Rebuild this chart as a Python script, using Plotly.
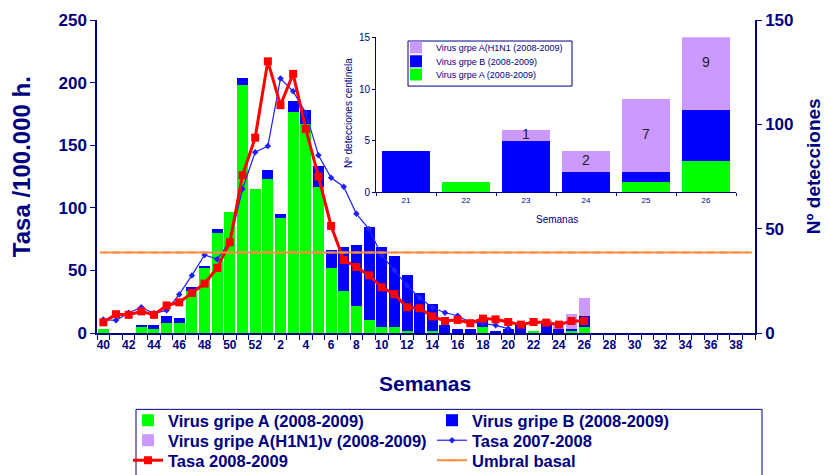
import plotly.graph_objects as go

# ---------------- data ----------------
weeks = ["40", "41", "42", "43", "44", "45", "46", "47", "48", "49", "50", "51", "52",
         "1", "2", "3", "4", "5", "6", "7", "8", "9", "10", "11", "12", "13", "14", "15",
         "16", "17", "18", "19", "20", "21", "22", "23", "24", "25", "26", "27", "28",
         "29", "30", "31", "32", "33", "34", "35", "36", "37", "38", "39"]
week_labels = ["40", "", "42", "", "44", "", "46", "", "48", "", "50", "", "52",
               "", "2", "", "4", "", "6", "", "8", "", "10", "", "12", "", "14", "",
               "16", "", "18", "", "20", "", "22", "", "24", "", "26", "", "28",
               "", "30", "", "32", "", "34", "", "36", "", "38", ""]

# detections (weeks 40 .. 26)
virus_a = [2, 0, 0, 3, 2, 5, 5, 20, 31, 48, 58, 119, 69,
           74, 55, 106, 100, 70, 31, 20, 13, 6, 3, 3, 1, 0, 1, 0, 0, 0, 3, 0, 0, 0, 1, 0, 0, 1, 3]
virus_b = [0, 0, 0, 1, 2, 3, 2, 2, 1, 2, 0, 3, 0,
           4, 2, 5, 7, 10, 9, 21, 29, 45, 38, 34, 27, 19, 13, 4, 2, 2, 3, 1, 2, 4, 0, 5, 2, 1, 5]
virus_h1n1 = [0, 0, 0, 0, 0, 0, 0, 0, 0, 0, 0, 0, 0,
              0, 0, 0, 0, 0, 0, 0, 0, 0, 0, 0, 0, 0, 0, 0, 0, 0, 0, 0, 0, 0, 0, 1, 2, 7, 9]

# rates per 100.000
tasa_0809 = [8.5, 15, 14.5, 17.3, 14.5, 22, 24.5, 32, 39.5, 52, 72.5, 126, 156,
             217, 182, 207, 163, 125, 85.5, 58.3, 52.7, 46, 36.5, 31, 20.5, 19.8, 13.3,
             9.6, 10.5, 7.8, 11.5, 10.9, 8.8, 6.7, 8.8, 8.3, 6.7, 9.6, 9.6]
tasa_0708 = [10.7, 10.1, 16.2, 20.5, 15.7, 18.1, 30.8, 46, 62.3, 59, 73.3, 115, 144.4,
             149.3, 203.3, 193, 176, 142, 124, 116.8, 95.2, 83, 62, 50, 38, 28, 20.3,
             16.2, 13.8, 8.5, 7.8, 6.1, 3.5]
umbral_basal = 64.3

# inset (weeks 21 .. 26)
inset_weeks = ["21", "22", "23", "24", "25", "26"]
inset_a = [0, 1, 0, 0, 1, 3]
inset_b = [4, 0, 5, 2, 1, 5]
inset_h1n1 = [0, 0, 1, 2, 7, 9]

# ---------------- styles / geometry ----------------
NAVY = "#000080"
GREEN = "#00FF00"
BLUE = "#0000FF"
LILAC = "#CC99FF"
FONT = "Liberation Sans"

W, H = 830, 475
OFF = 8                                  # default page body margin
PL, PT, PR, PB = 97, 20, 755, 332.7       # plot area in page pixels
ML, MT = PL - OFF, PT - OFF
MR, MB = W - (PR - OFF), H - (PB - OFF)


def px(x):
    return (x - PL) / (PR - PL)


def py(y):
    return (PB - y) / (PB - PT)


def cx(x):
    return (x - OFF) / W


def cy(y):
    return 1 - (y - OFF) / H


fig = go.Figure()

# main bars (base axis, right side: Nº detecciones)
fig.add_trace(go.Bar(x=weeks[:len(virus_a)], y=virus_a, name="Virus gripe A (2008-2009)",
                     marker=dict(color=GREEN, line_width=0), width=0.87,
                     xaxis="x", yaxis="y", legend="legend"))
fig.add_trace(go.Bar(x=weeks[:len(virus_b)], y=virus_b, name="Virus gripe B (2008-2009)",
                     marker=dict(color=BLUE, line_width=0), width=0.87,
                     xaxis="x", yaxis="y", legend="legend"))
fig.add_trace(go.Bar(x=weeks[:len(virus_h1n1)], y=virus_h1n1, name="Virus gripe A(H1N1)v (2008-2009)",
                     marker=dict(color=LILAC, line_width=0), width=0.87,
                     xaxis="x", yaxis="y", legend="legend2"))

# rate lines (overlaying axis, left side)
fig.add_trace(go.Scatter(x=weeks[:len(tasa_0708)], y=tasa_0708, name="Tasa 2007-2008",
                         mode="lines+markers", line=dict(color="#2020FF", width=1.2),
                         marker=dict(symbol="diamond", size=5, color="#2020FF"),
                         xaxis="x", yaxis="y2", legend="legend2"))
fig.add_trace(go.Scatter(x=weeks[:len(tasa_0809)], y=tasa_0809, name="Tasa 2008-2009",
                         mode="lines+markers", line=dict(color="#FF0000", width=3),
                         marker=dict(symbol="square", size=8, color="#FF0000"),
                         xaxis="x", yaxis="y2", legend="legend3"))
fig.add_trace(go.Scatter(x=weeks, y=[umbral_basal] * len(weeks), name="Umbral basal",
                         mode="lines+markers", line=dict(color="#FF8C40", width=2),
                         marker=dict(symbol="line-ew-open", size=5,
                                     line=dict(color="#F06010", width=2)),
                         xaxis="x", yaxis="y2", legend="legend3"))

# inset bars
fig.add_trace(go.Bar(x=inset_weeks, y=inset_a, name="Virus grpe A (2008-2009)",
                     marker=dict(color=GREEN, line_width=0), width=0.8,
                     xaxis="x3", yaxis="y3", legend="legend6"))
fig.add_trace(go.Bar(x=inset_weeks, y=inset_b, name="Virus grpe B (2008-2009)",
                     marker=dict(color=BLUE, line_width=0), width=0.8,
                     xaxis="x3", yaxis="y3", legend="legend5"))
fig.add_trace(go.Bar(x=inset_weeks, y=inset_h1n1, name="Virus grpe A(H1N1 (2008-2009)",
                     marker=dict(color=LILAC, line_width=0), width=0.8,
                     xaxis="x3", yaxis="y3", legend="legend4"))

# value labels in the H1N1 segments of the inset
lab_x, lab_y, lab_t = [], [], []
for wk, a, b, h in zip(inset_weeks, inset_a, inset_b, inset_h1n1):
    if h:
        lab_x.append(wk)
        lab_y.append(a + b + h / 2)
        lab_t.append(str(h))
fig.add_trace(go.Scatter(x=lab_x, y=lab_y, text=lab_t, mode="text",
                         textfont=dict(family=FONT, size=14, color="#222222"),
                         showlegend=False, hoverinfo="skip", xaxis="x3", yaxis="y3"))

bold = dict(family=FONT, color=NAVY, weight="bold")

annotations = [
    dict(text="Tasa /100.000 h.", x=px(21), y=py(167), textangle=-90,
         font=dict(**bold, size=24)),
    dict(text="Nº detecciones", x=px(813), y=py(166), textangle=-90,
         font=dict(**bold, size=19)),
    dict(text="Semanas", x=px(425), y=py(383), font=dict(**bold, size=21)),
    dict(text="Semanas", x=px(557), y=py(219),
         font=dict(family=FONT, color=NAVY, size=10)),
    dict(text="Nº detecciones centinela", x=px(348), y=py(113), textangle=-90,
         font=dict(family=FONT, color=NAVY, size=10)),
]
for a in annotations:
    a.update(xref="paper", yref="paper", showarrow=False, xanchor="center", yanchor="middle")

shapes = [
    dict(type="rect", xref="paper", yref="paper",
         x0=px(136), x1=px(762), y0=py(492), y1=py(409),
         line=dict(color=NAVY, width=1), fillcolor="rgba(0,0,0,0)", layer="above"),
    dict(type="rect", xref="paper", yref="paper",
         x0=px(408), x1=px(572), y0=py(86), y1=py(41),
         line=dict(color=NAVY, width=1), fillcolor="white", layer="above"),
]


def main_legend(row_y):
    return dict(orientation="h", xref="container", yref="container",
                x=cx(128), y=cy(row_y - 19), xanchor="left", yanchor="top",
                entrywidth=259, entrywidthmode="pixels", traceorder="normal",
                bgcolor="rgba(0,0,0,0)", borderwidth=0,
                font=dict(**bold, size=16.5), itemwidth=30)


def inset_legend(row_y):
    return dict(orientation="v", xref="container", yref="container",
                x=cx(396), y=cy(row_y - 16), xanchor="left", yanchor="top",
                bgcolor="rgba(0,0,0,0)", borderwidth=0,
                font=dict(family=FONT, color=NAVY, size=9), itemwidth=30)


fig.update_layout(
    width=W, height=H,
    margin=dict(l=ML, r=MR, t=MT, b=MB, autoexpand=False),
    paper_bgcolor="white", plot_bgcolor="white",
    barmode="stack",
    font=dict(family=FONT, color=NAVY),
    annotations=annotations,
    shapes=shapes,
    xaxis=dict(domain=[0, 1], anchor="y", type="category", automargin=False,
               categoryorder="array", categoryarray=weeks, range=[-0.5, len(weeks) - 0.5],
               tickmode="array", tickvals=weeks, ticktext=week_labels,
               tickson="boundaries", ticks="outside", ticklen=5, tickwidth=1, tickcolor=NAVY,
               showline=True, linecolor=NAVY, linewidth=1.5, showgrid=False,
               tickfont=dict(**bold, size=12), tickangle=0),
    yaxis=dict(side="right", anchor="x", range=[0, 150], tickvals=[0, 50, 100, 150],
               automargin=False,
               ticks="outside", ticklen=5, tickcolor=NAVY, showline=True, linecolor=NAVY,
               linewidth=1.5, showgrid=False, zeroline=False,
               tickfont=dict(**bold, size=17)),
    yaxis2=dict(side="left", overlaying="y", anchor="x", range=[0, 250],
                automargin=False,
                tickvals=[0, 50, 100, 150, 200, 250],
                ticks="outside", ticklen=5, tickcolor=NAVY, showline=True, linecolor=NAVY,
                linewidth=1.5, showgrid=False, zeroline=False,
                tickfont=dict(**bold, size=17)),
    xaxis3=dict(domain=[px(376), px(736)], anchor="y3", type="category", automargin=False,
                categoryorder="array", categoryarray=inset_weeks,
                tickson="boundaries", ticks="outside", ticklen=3, tickcolor=NAVY,
                showline=True, linecolor=NAVY, linewidth=1, showgrid=False,
                tickfont=dict(family=FONT, color=NAVY, size=8)),
    yaxis3=dict(domain=[py(192.3), py(37.3)], anchor="x3", range=[0, 15], tickvals=[0, 5, 10, 15],
                automargin=False,
                ticks="outside", ticklen=3, tickcolor=NAVY, showline=True, linecolor=NAVY,
                linewidth=1, showgrid=False, zeroline=False,
                tickfont=dict(family=FONT, color=NAVY, size=10)),
    legend=main_legend(422),
    legend2=main_legend(442),
    legend3=main_legend(462),
    legend4=inset_legend(49),
    legend5=inset_legend(62.7),
    legend6=inset_legend(76),
    showlegend=True,
)

fig.write_html("out.html")
